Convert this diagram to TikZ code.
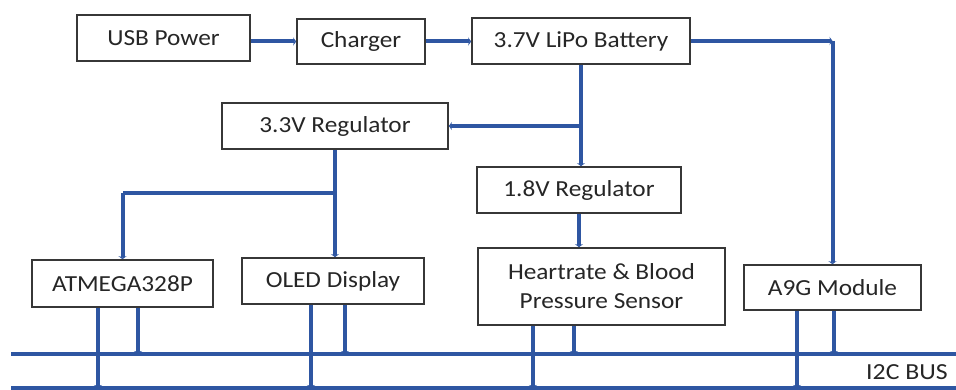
\documentclass[tikz,border=0pt]{standalone}
\usepackage{fontspec}
\usepackage{graphicx}
\setmainfont{Carlito}
\usetikzlibrary{arrows.meta,calc}
\definecolor{wire}{RGB}{46,86,162}
\definecolor{edge}{RGB}{55,55,55}
\definecolor{txt}{RGB}{38,38,38}
\newcommand{\sxw}[1]{\scalebox{1.1}[1]{#1}}
\begin{document}
\begin{tikzpicture}[x=1pt,y=-1pt,
  blk/.style={draw=edge,line width=1.7pt,fill=white,inner sep=0pt,align=center,
    text=txt,font=\fontsize{23}{28}\selectfont},
  wireline/.style={draw=wire,line width=4pt},
  tip/.style={wireline,-{Stealth[length=3pt,width=8pt]}},
  buswire/.style={draw=wire,line width=3.2pt}]
\clip (0,0) rectangle (956,390);
\fill[white] (0,0) rectangle (956,390);
% buses
\coordinate (bl1) at (11,354);
\coordinate (br1) at (960,354);
\coordinate (bl2) at (11,388);
\coordinate (br2) at (960,388);
\draw[buswire] (bl1) -- (br1);
\draw[buswire] (bl2) -- (br2);
\node[anchor=west,text=txt,font=\fontsize{23}{28}\selectfont,inner sep=0pt] (buslbl) at (866,372) {\scalebox{1.12}[1]{I2C BUS}};
% blocks
\node[blk,minimum width=173pt,minimum height=46pt] (usb) at (163.5,38) {\sxw{USB Power}};
\node[blk,minimum width=128pt,minimum height=45pt] (chg) at (361,41.5) {\sxw{Charger}};
\node[blk,minimum width=218pt,minimum height=46pt] (bat) at (581,41) {\sxw{3.7V LiPo Battery}};
\node[blk,minimum width=226pt,minimum height=46pt] (r33) at (335,126) {\sxw{3.3V Regulator}};
\node[blk,minimum width=204pt,minimum height=46pt] (r18) at (579,190) {\sxw{1.8V Regulator}};
\node[blk,minimum width=181pt,minimum height=47pt] (atm) at (122.5,283.5) {\sxw{ATMEGA328P}};
\node[blk,minimum width=182pt,minimum height=46pt] (oled) at (333,281) {\sxw{OLED Display}};
\node[blk,minimum width=247pt,minimum height=77pt] (hr) at (601.5,286.5) {\sxw{Heartrate \& Blood}\\[1pt]\sxw{Pressure Sensor}};
\node[blk,minimum width=177pt,minimum height=45pt] (a9g) at (832.5,287.5) {\sxw{A9G Module}};
% power wires
\draw[tip] (usb.east |- chg.west) -- (chg.west);
\draw[tip] (chg.east) -- (bat.west |- chg.east);
\coordinate (c1) at (a9g.north |- bat.east);
\draw[tip] (bat.east) -- (c1);
\draw[tip] (c1) -- (a9g.north);
\coordinate (b0) at (bat.south);
\coordinate (b1) at (b0 |- r33.east);
\draw[tip] (b0) -- (b0 |- r18.north);
\draw[tip] (b1) -- (r33.east);
\coordinate (s0) at (r33.south);
\coordinate (j1) at ($(s0)+(0,43)$);
\draw[tip] (s0) -- (s0 |- oled.north);
\draw[wireline] (j1) -- (atm.north |- j1);
\draw[tip] (atm.north |- j1) -- (atm.north);
\draw[tip] (r18.south) -- (r18.south |- hr.north);
% bus drops
\foreach \n/\a/\b in {atm/-24.5/15.5, oled/-22/12, hr/-68.5/-27.5, a9g/-35.5/1.5}{
  \coordinate (\n d1) at ($(\n.south)+(\a,0)$);
  \coordinate (\n d2) at ($(\n.south)+(\b,0)$);
  \draw[tip] (\n d1) -- (\n d1 |- bl2);
  \draw[tip] (\n d2) -- (\n d2 |- bl1);
}
\end{tikzpicture}
\end{document}
